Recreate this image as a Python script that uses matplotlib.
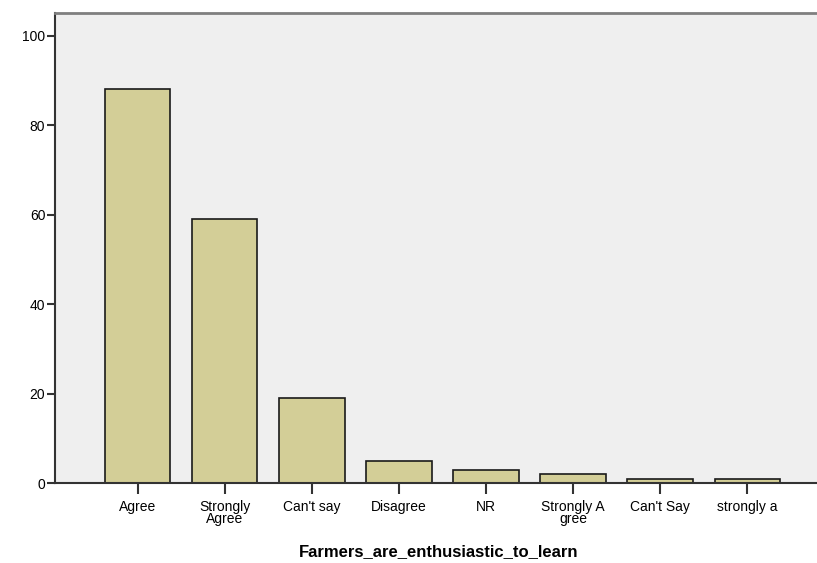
import matplotlib
matplotlib.use('Agg')
import matplotlib.pyplot as plt

categories = ['Agree', 'Strongly\nAgree', "Can't say", 'Disagree', 'NR',
              'Strongly A\ngree', "Can't Say", 'strongly a']
counts = [88, 59, 19, 5, 3, 2, 1, 1]
yticks = [0, 20, 40, 60, 80, 100]

plt.rcParams['font.family'] = ['Liberation Sans', 'DejaVu Sans']

fig = plt.figure(figsize=(8.17, 5.63), dpi=100)
ax = fig.add_axes([0.0673, 0.142, 0.94, 0.835])
ax.set_facecolor('#efefef')

x = list(range(len(categories)))
ax.bar(x, counts, width=0.75, color='#d3ce97', edgecolor='#1a1a1a', linewidth=1.2, zorder=2)

ax.set_xlim(-0.95, 7.87)
ax.set_ylim(0, 105.1)
ax.set_xticks(x)
ax.set_xticklabels(categories, fontsize=10, linespacing=0.8)
ax.set_yticks(yticks)
ax.set_yticklabels([str(v) for v in yticks], fontsize=10)

ax.tick_params(axis='x', length=8, width=1.5, color='#333333', pad=4)
ax.tick_params(axis='y', length=6, width=1.5, color='#333333', pad=1)

for side in ['left', 'bottom']:
    ax.spines[side].set_color('#333333')
    ax.spines[side].set_linewidth(1.5)
ax.spines['top'].set_color('#7f7f7f')
ax.spines['top'].set_linewidth(2)
ax.spines['right'].set_visible(False)

ax.set_xlabel('Farmers_are_enthusiastic_to_learn', fontsize=12, fontweight='bold', labelpad=13)

fig.savefig('out.png', dpi=100)
